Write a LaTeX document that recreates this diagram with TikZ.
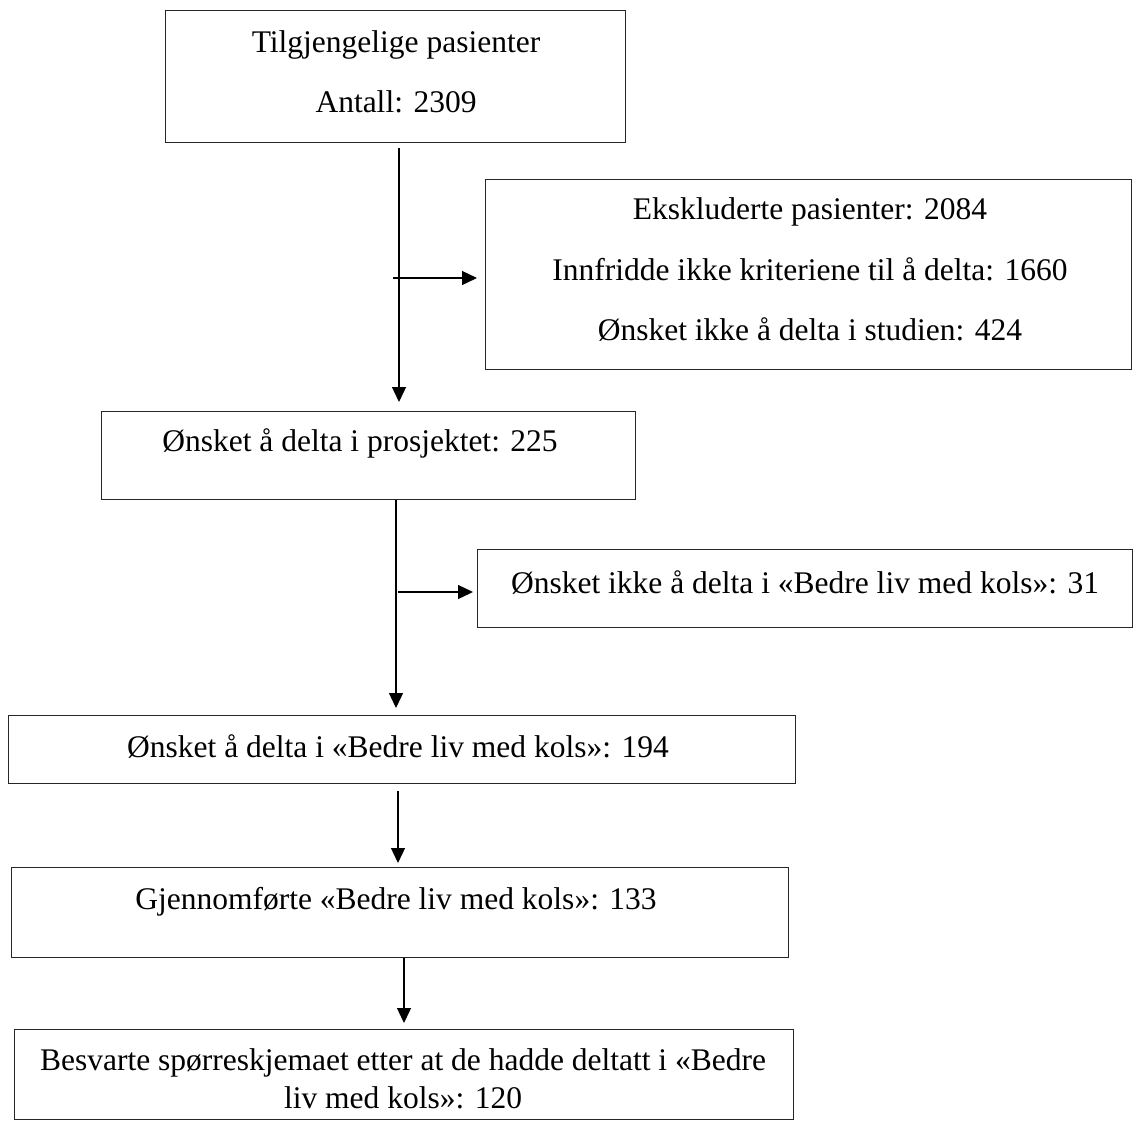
\documentclass[tikz,border=0pt]{standalone}
\usepackage{fontspec}
\setmainfont{Liberation Serif}
\usetikzlibrary{arrows.meta}
\begin{document}
\begin{tikzpicture}[x=1pt,y=-1pt,
  box/.style={draw=black!85, line width=1.3pt, inner sep=0pt, anchor=north west},
  txt/.style={anchor=base, inner sep=0pt, font=\fontsize{31.5}{37}\selectfont},
  arr/.style={draw=black, line width=1.3pt, -{Triangle[length=15pt,width=14pt]}}]
\useasboundingbox (0,0) rectangle (1133,1120);

% boxes
\node[box, minimum width=460pt, minimum height=132pt] (b1) at (165,10) {};
\node[box, minimum width=646pt, minimum height=190pt] (b2) at (485,179) {};
\node[box, minimum width=534pt, minimum height=88pt]  (b3) at (101,411) {};
\node[box, minimum width=655pt, minimum height=78pt]  (b4) at (477,549) {};
\node[box, minimum width=787pt, minimum height=68pt]  (b5) at (8,715) {};
\node[box, minimum width=777pt, minimum height=90pt]  (b6) at (11,867) {};
\node[box, minimum width=779pt, minimum height=90pt]  (b7) at (14,1029) {};

% texts
\node[txt] (t1a) at (396,52) {Tilgjengelige pasienter};
\node[txt] (t1b) at (396,112) {Antall: 2309};
\node[txt] (t2a) at (810,219) {Ekskluderte pasienter: 2084};
\node[txt] (t2b) at (810,280) {Innfridde ikke kriteriene til å delta: 1660};
\node[txt] (t2c) at (810,340) {Ønsket ikke å delta i studien: 424};
\node[txt] (t3) at (360,451) {Ønsket å delta i prosjektet: 225};
\node[txt] (t4) at (805,593) {Ønsket ikke å delta i «Bedre liv med kols»: 31};
\node[txt] (t5) at (398,757) {Ønsket å delta i «Bedre liv med kols»: 194};
\node[txt] (t6) at (396,909) {Gjennomførte «Bedre liv med kols»: 133};
\node[txt] (t7a) at (403,1070) {Besvarte spørreskjemaet etter at de hadde deltatt i «Bedre};
\node[txt] (t7b) at (403,1108) {liv med kols»: 120};

% connectors
\coordinate (v1) at (399,0);
\coordinate (v2) at (396,0);
\coordinate (v3) at (398,0);
\coordinate (v4) at (404,0);
\coordinate (h1) at (393,278);
\coordinate (h2) at (398,592);
\draw[arr, shorten <=5pt, shorten >=9pt] (b1.south -| v1) -- (b3.north -| v1);
\draw[arr, shorten >=8pt] (h1) -- (h1 -| b2.west);
\draw[arr, shorten >=7pt] (b3.south -| v2) -- (b5.north -| v2);
\draw[arr, shorten >=4pt] (h2) -- (h2 -| b4.west);
\draw[arr, shorten <=7pt, shorten >=4pt] (b5.south -| v3) -- (b6.north -| v3);
\draw[arr, shorten >=6pt] (b6.south -| v4) -- (b7.north -| v4);
\end{tikzpicture}
\end{document}
